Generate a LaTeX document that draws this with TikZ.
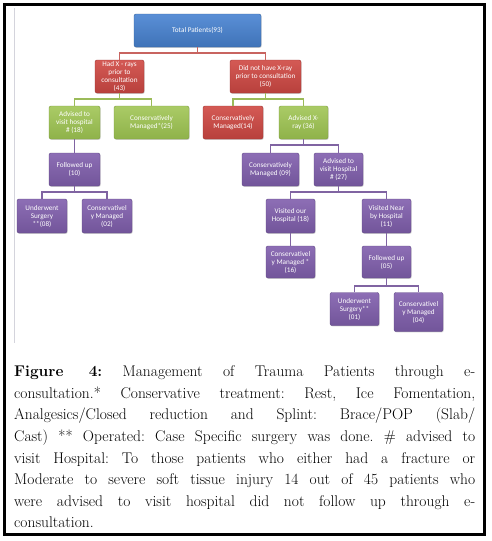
\documentclass[tikz,border=0pt]{standalone}
\usepackage{fontspec}
\setmainfont{Latin Modern Roman}
\newfontfamily\boxfont{Carlito}
\usetikzlibrary{shadows}
\definecolor{blueB}{HTML}{3F73B8}
\definecolor{blueL}{HTML}{5A8FD6}
\definecolor{blueD}{HTML}{35649F}
\definecolor{redB}{HTML}{B8403C}
\definecolor{redL}{HTML}{D45A55}
\definecolor{redD}{HTML}{9E3532}
\definecolor{grnB}{HTML}{8FB24A}
\definecolor{grnL}{HTML}{AACB66}
\definecolor{grnD}{HTML}{7C9C3E}
\definecolor{purB}{HTML}{72559A}
\definecolor{purL}{HTML}{8D6EB5}
\definecolor{purD}{HTML}{614887}
\definecolor{redLine}{HTML}{C86460}
\definecolor{grnLine}{HTML}{9BBB59}
\definecolor{purLine}{HTML}{8064A2}
\definecolor{greyLine}{HTML}{D4D4DC}
\tikzset{
  box/.style={rounded corners=2pt, text=white, align=center, inner sep=0.5pt,
    font=\boxfont\fontsize{7.2}{8}\selectfont, line width=0.4pt,
    drop shadow={opacity=0.35, shadow xshift=0.7pt, shadow yshift=-0.9pt}},
  bluebox/.style={box, draw=blueD, top color=blueL, bottom color=blueB},
  redbox/.style={box, draw=redD, top color=redL, bottom color=redB},
  grnbox/.style={box, draw=grnD, top color=grnL, bottom color=grnB},
  purbox/.style={box, draw=purD, top color=purL, bottom color=purB},
  sz/.style 2 args={minimum width=#1pt, minimum height=#2pt},
  conn/.style={line width=1.1pt},
  redconn/.style={conn, draw=redLine},
  grnconn/.style={conn, draw=grnLine},
  purconn/.style={conn, draw=purLine},
  frame/.style={draw=black, line width=3pt},
  caption/.style={inner sep=0pt, anchor=base west, font=\fontsize{15.5}{21.6}\selectfont\frenchspacing}
}
\begin{document}
\begin{tikzpicture}[x=1pt,y=1pt]
\useasboundingbox (0,0) rectangle (492,-541);
\fill[white] (0,0) rectangle (492,-541);
\draw[frame] (4.5,-4.5) rectangle (484.2,-534.7);
\draw[draw=greyLine, line width=1.2pt] (14.7,-8) -- (14.7,-343);

% level 0
\node[bluebox, sz={127}{33}] (total) at (197.5,-30.5) {Total Patients(93)};
% level 1
\node[redbox, sz={49}{33}] (hadx) at (119.5,-76.5) {Had X - rays\\prior to\\consultation\\(43)};
\node[redbox, sz={71}{33}] (nox) at (265.5,-76.5) {Did not have X-ray\\prior to consultation\\(50)};
% level 2
\node[grnbox, sz={51}{33}] (adv18) at (74.5,-122.5) {Advised to\\visit hospital\\\# (18)};
\node[grnbox, sz={75}{33}] (cm25) at (151.5,-122.5) {Conservatively\\Managed*(25)};
\node[redbox, sz={60}{33}] (cm14) at (233,-122.5) {Conservatively\\Managed(14)};
\node[grnbox, sz={49}{33}] (advx) at (303.5,-122.5) {Advised X-\\ray (36)};
% level 3
\node[purbox, sz={51}{33}] (fu10) at (74.5,-169.5) {Followed up\\(10)};
\node[purbox, sz={57}{33}] (cm09) at (270.5,-169.5) {Conservatively\\Managed (09)};
\node[purbox, sz={49}{33}] (adv27) at (338.5,-169.5) {Advised to\\visit Hospital\\\# (27)};
% level 4
\node[purbox, sz={50}{34}] (us08) at (42,-216) {Underwent\\Surgery\\**(08)};
\node[purbox, sz={50}{34}] (cm02) at (107,-216) {Conservativel\\y Managed\\(02)};
\node[purbox, sz={49}{34}] (vis18) at (290.5,-216) {Visited our\\Hospital (18)};
\node[purbox, sz={49}{34}] (vis11) at (386.5,-216) {Visited Near\\by Hospital\\(11)};
% level 5
\node[purbox, sz={49}{32}] (cm16) at (290.5,-262) {Conservativel\\y Managed *\\(16)};
\node[purbox, sz={49}{32}] (fu05) at (386.5,-262) {Followed up\\(05)};
% level 6
\node[purbox, sz={49}{33}] (us01) at (354.5,-309) {Underwent\\Surgery**\\(01)};
\node[purbox, sz={49}{39}] (cm04) at (418.5,-312) {Conservativel\\y Managed\\(04)};

% buses
\coordinate (b0) at (197.5,-53);
\coordinate (b1) at (119.5,-99);
\coordinate (b2) at (265.5,-99);
\coordinate (b3) at (303.5,-145);
\coordinate (b4) at (74.5,-192);
\coordinate (b5) at (338.5,-192);
\coordinate (b6) at (386.5,-286);

% connectors
\draw[redconn] (total.south) -- (b0) -| (hadx.north);
\draw[redconn] (b0) -| (nox.north);
\draw[grnconn] (hadx.south) -- (b1) -| (adv18.north);
\draw[grnconn] (b1) -| (cm25.north);
\draw[grnconn] (nox.south) -- (b2) -| (cm14.north);
\draw[grnconn] (b2) -| (advx.north);
\draw[purconn] (advx.south) -- (b3) -| (cm09.north);
\draw[purconn] (b3) -| (adv27.north);
\draw[purconn] (adv18.south) -- (fu10.north);
\draw[purconn] (fu10.south) -- (b4) -| (us08.north);
\draw[purconn] (b4) -| (cm02.north);
\draw[purconn] (adv27.south) -- (b5) -| (vis18.north);
\draw[purconn] (b5) -| (vis11.north);
\draw[purconn] (vis18.south) -- (cm16.north);
\draw[purconn] (vis11.south) -- (fu05.north);
\draw[purconn] (fu05.south) -- (b6) -| (us01.north);
\draw[purconn] (b6) -| (cm04.north);

% caption
\node[caption] (cap) at (14,-376.7) {\parbox[t]{461pt}{%
\makebox[461pt][s]{\textbf{Figure 4:} Management of Trauma Patients through e-}\\
\makebox[461pt][s]{consultation.* Conservative treatment: Rest, Ice Fomentation,}\\
\makebox[461pt][s]{Analgesics/Closed reduction and Splint: Brace/POP (Slab/}\\
\makebox[461pt][s]{Cast) ** Operated: Case Specific surgery was done. \# advised to}\\
\makebox[461pt][s]{visit Hospital: To those patients who either had a fracture or}\\
\makebox[461pt][s]{Moderate to severe soft tissue injury 14 out of 45 patients who}\\
\makebox[461pt][s]{were advised to visit hospital did not follow up through e-}\\
\makebox[461pt][l]{consultation.}}};
\end{tikzpicture}
\end{document}
